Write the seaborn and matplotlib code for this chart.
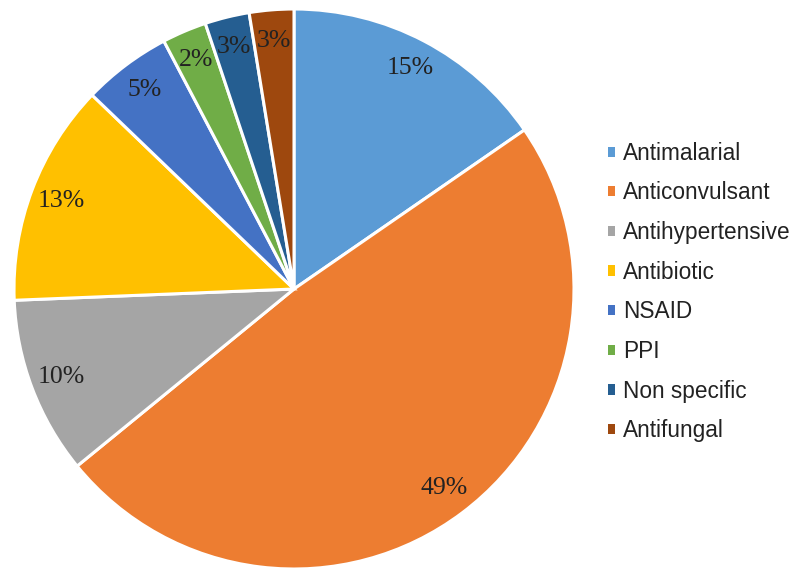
"""Drug class share pie chart."""

import matplotlib

matplotlib.use("Agg")
import matplotlib.pyplot as plt
from matplotlib.patches import Patch
import seaborn as sns

categories = [
    "Antimalarial",
    "Anticonvulsant",
    "Antihypertensive",
    "Antibiotic",
    "NSAID",
    "PPI",
    "Non specific",
    "Antifungal",
]
# case counts per drug class, printed labels as shown in the source figure
counts = [6, 19, 4, 5, 2, 1, 1, 1]
pct_labels = ["15%", "49%", "10%", "13%", "5%", "2%", "3%", "3%"]
colors = ["#5B9BD5", "#ED7D31", "#A5A5A5", "#FFC000", "#4472C4", "#70AD47", "#255E91", "#9E480E"]


def main() -> None:
    sns.set_theme(style="white")
    palette = sns.color_palette(colors)

    fig = plt.figure(figsize=(7.91, 5.69), dpi=100)
    ax = fig.add_axes([14 / 791, 0 / 569, 560 / 791, 560 / 569])

    label_iter = iter(pct_labels)
    wedges, _, autotexts = ax.pie(
        counts,
        colors=palette,
        startangle=90,
        counterclock=False,
        autopct=lambda _: next(label_iter),
        pctdistance=0.89,
        wedgeprops={"edgecolor": "white", "linewidth": 2.2},
        textprops={"family": ["Liberation Serif", "DejaVu Serif"], "fontsize": 18.5, "color": "#222222"},
    )
    ax.set_xlim(-1, 1)
    ax.set_ylim(-1, 1)
    ax.set_aspect("equal")
    ax.axis("off")

    handles = [Patch(facecolor=c, edgecolor="none", label=name) for c, name in zip(palette, categories)]
    fig.legend(
        handles=handles,
        loc="center left",
        bbox_to_anchor=(608 / 791, 1 - 292 / 569),
        frameon=False,
        prop={"family": ["Liberation Sans", "DejaVu Sans"], "size": 16.3},
        handlelength=0.31,
        handleheight=0.31,
        handletextpad=0.35,
        labelspacing=0.735,
        borderpad=0,
        borderaxespad=0,
        labelcolor="#222222",
    )

    fig.savefig("out.png", dpi=100)
    plt.close(fig)


if __name__ == "__main__":
    main()
